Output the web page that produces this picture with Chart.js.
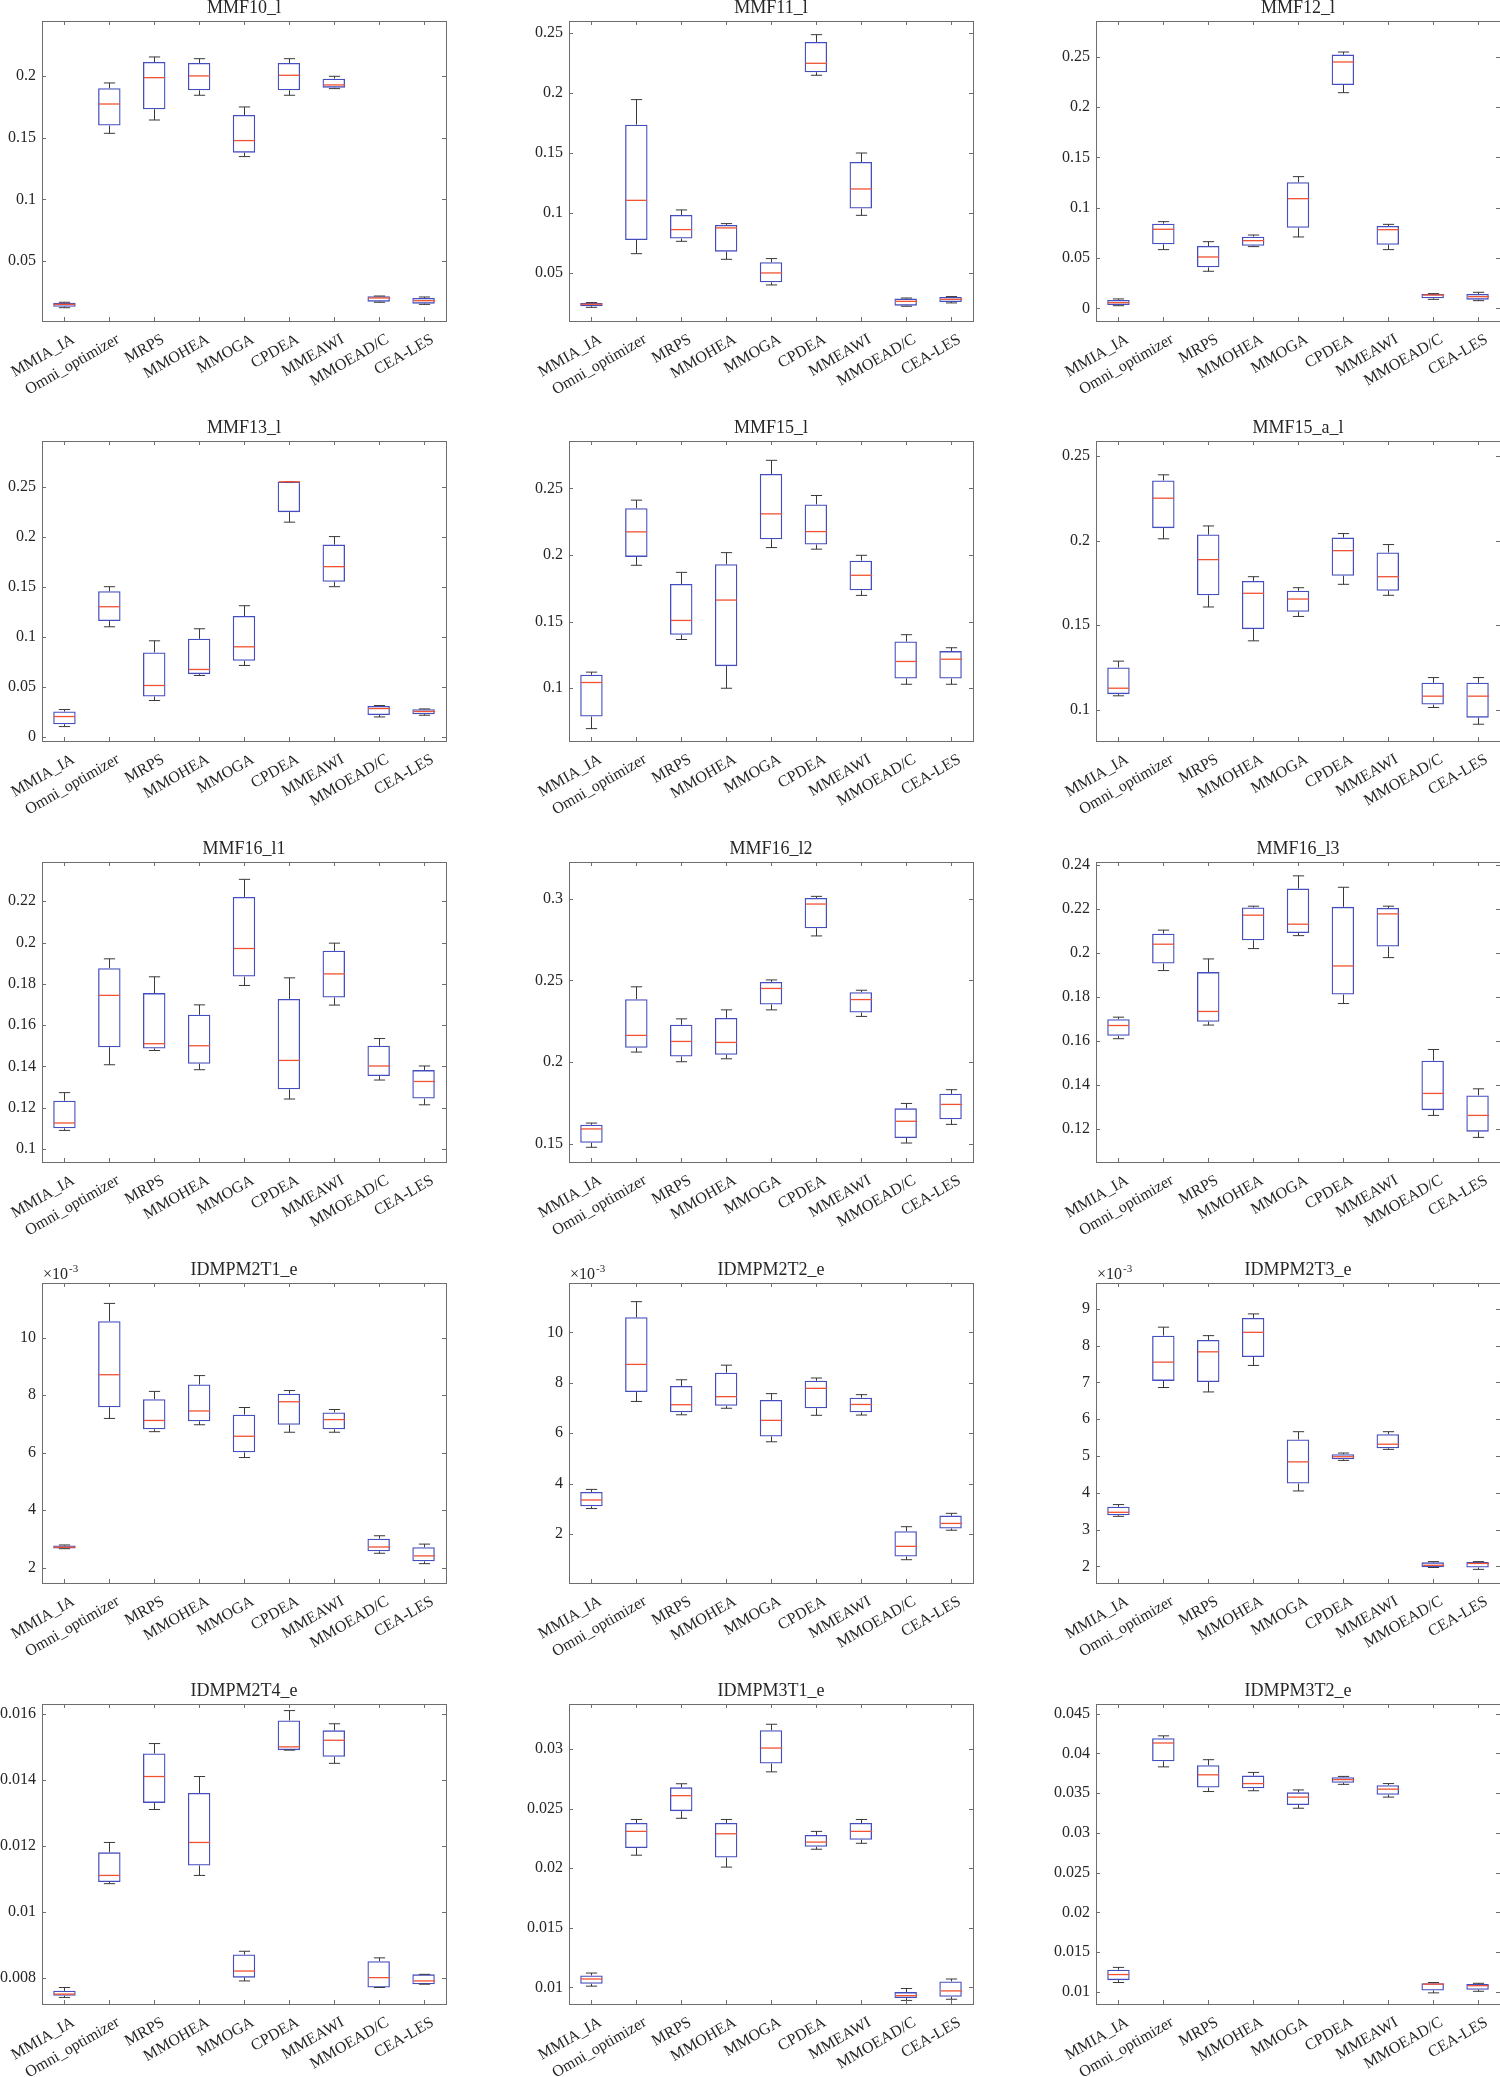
<!DOCTYPE html>
<html><head><meta charset="utf-8">
<script src="https://cdn.jsdelivr.net/npm/chart.js@4.4.1/dist/chart.umd.min.js"></script>
<style>
html,body{margin:0;padding:0;background:#fff;width:1500px;height:2077px;overflow:hidden;position:relative}
.panel{position:absolute}
</style></head><body>
<script>
// ---------------- DATA ----------------
const categories = ['MMIA_IA','Omni_optimizer','MRPS','MMOHEA','MMOGA','CPDEA','MMEAWI','MMOEAD/C','CEA-LES'];
const titles = ['MMF10_l','MMF11_l','MMF12_l','MMF13_l','MMF15_l','MMF15_a_l','MMF16_l1','MMF16_l2','MMF16_l3',
                'IDMPM2T1_e','IDMPM2T2_e','IDMPM2T3_e','IDMPM2T4_e','IDMPM3T1_e','IDMPM3T2_e'];
// each entry: [min, q1, median, q3, max]
const MMF10_l = [[0.0121,0.0129,0.0148,0.0162,0.0165],[0.1537,0.16,0.1775,0.1903,0.1946],[0.1645,0.1732,0.1989,0.2116,0.2157],[0.1846,0.1886,0.2003,0.2108,0.2143],[0.1348,0.138,0.1478,0.1686,0.1751],[0.1846,0.1886,0.2008,0.2108,0.2143],[0.19,0.1908,0.193,0.1981,0.2],[0.0165,0.017,0.020,0.0214,0.0216],[0.0148,0.0154,0.0178,0.020,0.0208]];
const MMF11_l = [[0.021,0.0219,0.0236,0.0247,0.025],[0.0658,0.0772,0.1103,0.1735,0.1944],[0.0761,0.0784,0.0859,0.0981,0.1023],[0.0611,0.0675,0.0873,0.0898,0.0909],[0.0397,0.0419,0.0497,0.0586,0.0617],[0.2147,0.2172,0.2247,0.2425,0.2486],[0.0978,0.1034,0.1198,0.1423,0.1498],[0.0219,0.0224,0.026,0.0283,0.0288],[0.0247,0.0255,0.0277,0.0297,0.03]];
const MMF12_l = [[0.0026,0.0033,0.0056,0.0083,0.0093],[0.0583,0.0636,0.0785,0.0841,0.0861],[0.0368,0.0407,0.051,0.0619,0.0662],[0.0613,0.0622,0.0672,0.0712,0.0728],[0.0709,0.0801,0.1089,0.1252,0.1308],[0.2142,0.2218,0.2447,0.252,0.2546],[0.0583,0.0632,0.0781,0.0818,0.0834],[0.0089,0.0099,0.0132,0.0142,0.0146],[0.0076,0.0086,0.0116,0.0142,0.0159]];
const MMF13_l = [[0.0107,0.013,0.0207,0.0257,0.0277],[0.1103,0.116,0.1303,0.1457,0.1503],[0.0367,0.0407,0.0517,0.0847,0.0963],[0.0617,0.063,0.0677,0.0983,0.1083],[0.0717,0.0763,0.0903,0.121,0.1313],[0.2147,0.2247,0.255,0.255,0.255],[0.1503,0.1553,0.1703,0.1923,0.2003],[0.0203,0.0223,0.0287,0.0313,0.0317],[0.022,0.023,0.0257,0.028,0.0283]];
const MMF15_l = [[0.0697,0.0787,0.1043,0.1101,0.1121],[0.1923,0.1986,0.2174,0.2352,0.2412],[0.1366,0.1401,0.1509,0.1783,0.187],[0.1,0.1166,0.1662,0.1931,0.2018],[0.2056,0.2119,0.2309,0.2608,0.2711],[0.2044,0.2079,0.2176,0.238,0.2447],[0.1697,0.1735,0.1848,0.1958,0.1998],[0.103,0.1073,0.1201,0.1351,0.1402],[0.103,0.1073,0.1218,0.1279,0.1304]];
const MMF15_a_l = [[0.1083,0.1093,0.1128,0.1251,0.1288],[0.2011,0.2074,0.2251,0.2356,0.2389],[0.1608,0.1677,0.1888,0.2036,0.2087],[0.1408,0.1477,0.1689,0.1762,0.1787],[0.1552,0.158,0.1655,0.1704,0.1722],[0.1742,0.1793,0.1941,0.2018,0.2042],[0.1677,0.1704,0.1787,0.193,0.1977],[0.1014,0.1031,0.1081,0.116,0.1191],[0.0915,0.0954,0.1081,0.116,0.1191]];
const MMF16_l1 = [[0.109,0.11,0.1126,0.1234,0.1273],[0.1408,0.1493,0.1744,0.1876,0.1921],[0.1477,0.1487,0.151,0.1755,0.1834],[0.1384,0.1413,0.15,0.165,0.1698],[0.1792,0.1835,0.1971,0.2221,0.2306],[0.1242,0.1289,0.1429,0.1727,0.1829],[0.1697,0.1734,0.1848,0.196,0.1997],[0.1334,0.1353,0.1402,0.15,0.1535],[0.1214,0.1244,0.1327,0.1382,0.1402]];
const MMF16_l2 = [[0.148,0.1508,0.1592,0.1618,0.1628],[0.2062,0.2088,0.2164,0.2385,0.2461],[0.2003,0.2035,0.2127,0.2229,0.2265],[0.2021,0.2046,0.2121,0.2271,0.232],[0.232,0.2353,0.2451,0.2491,0.2503],[0.2772,0.2819,0.2967,0.3004,0.3014],[0.228,0.2304,0.2383,0.2428,0.244],[0.1506,0.1537,0.1639,0.1718,0.1748],[0.162,0.1651,0.1742,0.1807,0.1832]];
const MMF16_l3 = [[0.1611,0.1624,0.1671,0.17,0.1709],[0.1921,0.1953,0.2041,0.2089,0.2105],[0.1673,0.1688,0.1735,0.1914,0.1974],[0.2021,0.2059,0.2173,0.2208,0.2214],[0.208,0.2092,0.2132,0.2294,0.2352],[0.1771,0.1812,0.1942,0.2211,0.23],[0.198,0.203,0.2179,0.2206,0.2214],[0.1262,0.1286,0.1362,0.1511,0.1562],[0.1162,0.1188,0.1262,0.1353,0.1383]];
const IDMPM2T1_e = [[2.66e-3,2.67e-3,2.71e-3,2.77e-3,2.79e-3],[7.19e-3,7.58e-3,8.71e-3,10.57e-3,11.19e-3],[6.73e-3,6.81e-3,7.12e-3,7.86e-3,8.13e-3],[6.97e-3,7.09e-3,7.45e-3,8.37e-3,8.68e-3],[5.83e-3,6.01e-3,6.57e-3,7.32e-3,7.57e-3],[6.71e-3,6.97e-3,7.77e-3,8.05e-3,8.16e-3],[6.71e-3,6.81e-3,7.15e-3,7.40e-3,7.50e-3],[2.50e-3,2.57e-3,2.72e-3,3.01e-3,3.11e-3],[2.14e-3,2.22e-3,2.41e-3,2.71e-3,2.82e-3]];
const IDMPM2T2_e = [[3.01e-3,3.10e-3,3.35e-3,3.67e-3,3.77e-3],[7.26e-3,7.63e-3,8.73e-3,10.60e-3,11.22e-3],[6.73e-3,6.83e-3,7.13e-3,7.87e-3,8.12e-3],[6.99e-3,7.09e-3,7.45e-3,8.40e-3,8.70e-3],[5.66e-3,5.87e-3,6.51e-3,7.32e-3,7.57e-3],[6.71e-3,6.99e-3,7.78e-3,8.08e-3,8.19e-3],[6.72e-3,6.83e-3,7.14e-3,7.41e-3,7.53e-3],[0.98e-3,1.11e-3,1.51e-3,2.11e-3,2.29e-3],[2.15e-3,2.22e-3,2.42e-3,2.73e-3,2.82e-3]];
const IDMPM2T3_e = [[3.36e-3,3.39e-3,3.47e-3,3.62e-3,3.68e-3],[6.86e-3,7.04e-3,7.55e-3,8.27e-3,8.50e-3],[6.74e-3,7.01e-3,7.83e-3,8.15e-3,8.27e-3],[7.46e-3,7.69e-3,8.36e-3,8.75e-3,8.86e-3],[4.05e-3,4.25e-3,4.84e-3,5.45e-3,5.66e-3],[4.88e-3,4.91e-3,4.98e-3,5.05e-3,5.08e-3],[5.18e-3,5.21e-3,5.32e-3,5.59e-3,5.66e-3],[1.97e-3,1.98e-3,2.03e-3,2.11e-3,2.13e-3],[1.92e-3,1.97e-3,2.08e-3,2.12e-3,2.13e-3]];
const IDMPM2T4_e = [[0.0074,0.00745,0.0075,0.0076,0.0077],[0.01085,0.0109,0.0111,0.0118,0.0121],[0.0131,0.0133,0.0141,0.0148,0.0151],[0.0111,0.0114,0.0121,0.0136,0.0141],[0.0079,0.0080,0.0082,0.0087,0.0088],[0.0149,0.0149,0.0150,0.0158,0.0161],[0.0145,0.0147,0.0152,0.0155,0.0157],[0.0077,0.0077,0.0080,0.0085,0.0086],[0.0078,0.0078,0.0079,0.0081,0.0081]];
const IDMPM3T1_e = [[0.0101,0.0103,0.0107,0.011,0.0112],[0.0211,0.0217,0.0231,0.0238,0.0241],[0.0242,0.0248,0.0261,0.0268,0.0271],[0.0201,0.0209,0.0229,0.0238,0.0241],[0.0281,0.0288,0.0301,0.0316,0.0321],[0.0216,0.0218,0.0222,0.0228,0.0231],[0.0221,0.0224,0.0231,0.0238,0.0241],[0.0089,0.0091,0.0093,0.0096,0.0099],[0.009,0.0092,0.0097,0.0105,0.0107]];
const IDMPM3T2_e = [[0.0112,0.0115,0.0122,0.0128,0.0131],[0.0383,0.039,0.0413,0.0419,0.0422],[0.0352,0.0357,0.0373,0.0385,0.0392],[0.0353,0.0356,0.0362,0.0372,0.0376],[0.0331,0.0335,0.0345,0.0351,0.0354],[0.0361,0.0363,0.0367,0.037,0.0371],[0.0345,0.0348,0.0355,0.036,0.0362],[0.0099,0.0102,0.0110,0.0111,0.0112],[0.0101,0.0103,0.0108,0.011,0.0111]];

const panelStats = [MMF10_l,MMF11_l,MMF12_l,MMF13_l,MMF15_l,MMF15_a_l,MMF16_l1,MMF16_l2,MMF16_l3,IDMPM2T1_e,IDMPM2T2_e,IDMPM2T3_e,IDMPM2T4_e,IDMPM3T1_e,IDMPM3T2_e];
const yMin = [0.0013,0.0096,-0.0126,-0.0037,0.0604,0.0816,0.0937,0.139,0.105,1.467e-3,0.056e-3,1.549e-3,0.0072,0.0086,0.0085];
const yMax = [0.2449,0.26,0.2854,0.2957,0.2856,0.2589,0.239,0.3224,0.2415,11.90e-3,11.96e-3,9.70e-3,0.0163,0.0338,0.0462];
const yTicks = [
  [0.05,0.1,0.15,0.2],
  [0.05,0.1,0.15,0.2,0.25],
  [0,0.05,0.1,0.15,0.2,0.25],
  [0,0.05,0.1,0.15,0.2,0.25],
  [0.1,0.15,0.2,0.25],
  [0.1,0.15,0.2,0.25],
  [0.1,0.12,0.14,0.16,0.18,0.2,0.22],
  [0.15,0.2,0.25,0.3],
  [0.12,0.14,0.16,0.18,0.2,0.22,0.24],
  [2e-3,4e-3,6e-3,8e-3,10e-3],
  [2e-3,4e-3,6e-3,8e-3,10e-3],
  [2e-3,3e-3,4e-3,5e-3,6e-3,7e-3,8e-3,9e-3],
  [0.008,0.01,0.012,0.014,0.016],
  [0.01,0.015,0.02,0.025,0.03],
  [0.01,0.015,0.02,0.025,0.03,0.035,0.04,0.045]
];
const yExponent = [0,0,0,0,0,0,0,0,0,-3,-3,-3,0,0,0];

// ---------------- LAYOUT / STYLE ----------------
const colLeft = [42,569,1096];
const rowTop = [21,441,862,1283,1704];
const PW = 404, PH = 300, YW = 70, TH = 28, XH = 100, RP = 10;
const FONT = '"Liberation Serif","Times New Roman",serif';
const TEXT = '#262626', AXIS = '#6e6e6e', BOXC = 'rgb(68,78,190)', MEDC = 'rgb(240,82,50)', WHISK = '#3a3a3a';

function makeBoxPlugin(stats, expo){
  return {
    id:'boxParts',
    afterDatasetsDraw(chart){
      const y = chart.scales.y, meta = chart.getDatasetMeta(0), ctx = chart.ctx;
      ctx.save();
      stats.forEach((s,i)=>{
        const bar = meta.data[i];
        const cx = Math.round(bar.x)+0.5, hw = bar.width/2, cw = hw/2;
        const p = s.map(v=>y.getPixelForValue(v));
        ctx.strokeStyle = WHISK; ctx.lineWidth = 1;
        ctx.beginPath();
        ctx.moveTo(cx,p[3]); ctx.lineTo(cx,p[4]);
        ctx.moveTo(cx-cw,p[4]); ctx.lineTo(cx+cw,p[4]);
        ctx.moveTo(cx,p[1]); ctx.lineTo(cx,p[0]);
        ctx.moveTo(cx-cw,p[0]); ctx.lineTo(cx+cw,p[0]);
        ctx.stroke();
        ctx.strokeStyle = MEDC; ctx.lineWidth = 1.3;
        ctx.beginPath(); ctx.moveTo(cx-hw+0.6,p[2]); ctx.lineTo(cx+hw-0.6,p[2]); ctx.stroke();
      });
      ctx.restore();
    },
    afterDraw(chart){
      const {left,right,top,bottom} = chart.chartArea, ctx = chart.ctx;
      const x = chart.scales.x, y = chart.scales.y;
      ctx.save();
      ctx.strokeStyle = AXIS; ctx.lineWidth = 1;
      ctx.strokeRect(Math.round(left)+0.5, Math.round(top)+0.5, Math.round(right-left), Math.round(bottom-top));
      ctx.beginPath();
      y.ticks.forEach(t=>{
        const py = Math.round(y.getPixelForValue(t.value))+0.5;
        ctx.moveTo(left,py); ctx.lineTo(left+4,py);
        ctx.moveTo(right-4,py); ctx.lineTo(right,py);
      });
      x.ticks.forEach((t,i)=>{
        const px = Math.round(x.getPixelForTick(i))+0.5;
        ctx.moveTo(px,bottom); ctx.lineTo(px,bottom-4);
        ctx.moveTo(px,top); ctx.lineTo(px,top+4);
      });
      ctx.stroke();
      if (expo){
        ctx.fillStyle = TEXT; ctx.textBaseline = 'alphabetic'; ctx.textAlign = 'left';
        ctx.font = '16px ' + FONT;
        ctx.fillText('\u00d710', left+1, top-4);
        const w = ctx.measureText('\u00d710').width;
        ctx.font = '11px ' + FONT;
        ctx.fillText(String(expo), left+1+w+1, top-11);
      }
      ctx.restore();
    }
  };
}

titles.forEach((title, k)=>{
  const r = Math.floor(k/3), c = k%3;
  const div = document.createElement('div');
  div.className = 'panel';
  const W = YW + PW + RP, H = TH + PH + XH;
  div.style.left = (colLeft[c]-YW)+'px';
  div.style.top = (rowTop[r]-TH)+'px';
  div.style.width = W+'px'; div.style.height = H+'px';
  const cv = document.createElement('canvas');
  cv.width = W; cv.height = H;
  cv.style.width = W+'px'; cv.style.height = H+'px';
  div.appendChild(cv);
  document.body.appendChild(div);
  const stats = panelStats[k];
  const expo = yExponent[k];
  const factor = expo ? Math.pow(10,-expo) : 1;
  new Chart(cv.getContext('2d'), {
    type:'bar',
    data:{
      labels: categories,
      datasets:[{
        data: stats.map(s=>[s[1],s[3]]),
        backgroundColor:'rgba(0,0,0,0)',
        borderColor: BOXC,
        borderWidth: 1.3,
        borderSkipped: false,
        barPercentage: 0.5,
        categoryPercentage: 1.0
      }]
    },
    options:{
      responsive:false,
      animation:false,
      devicePixelRatio:1,
      layout:{padding:{left:0,right:RP,top:0,bottom:0}},
      plugins:{
        legend:{display:false},
        tooltip:{enabled:false},
        title:{display:true,text:title,fullSize:false,color:TEXT,
               font:{family:FONT,size:18,weight:'normal',lineHeight:1.2},
               padding:{top:4.4,bottom:2}}
      },
      scales:{
        x:{
          type:'category', offset:true,
          grid:{display:false,drawTicks:false}, border:{display:false},
          ticks:{color:TEXT,font:{family:FONT,size:16},minRotation:30,maxRotation:30,autoSkip:false,padding:9,labelOffset:9},
          afterFit(s){ s.height = XH; }
        },
        y:{
          type:'linear', min:yMin[k], max:yMax[k],
          grid:{display:false,drawTicks:false}, border:{display:false},
          afterBuildTicks(s){ s.ticks = yTicks[k].map(v=>({value:v})); },
          ticks:{color:TEXT,font:{family:FONT,size:16},padding:6,autoSkip:false,
                 callback:(v)=>String(+(v*factor).toFixed(6))},
          afterFit(s){ s.width = YW; }
        }
      }
    },
    plugins:[makeBoxPlugin(stats, expo)]
  });
});
</script>
</body></html>
